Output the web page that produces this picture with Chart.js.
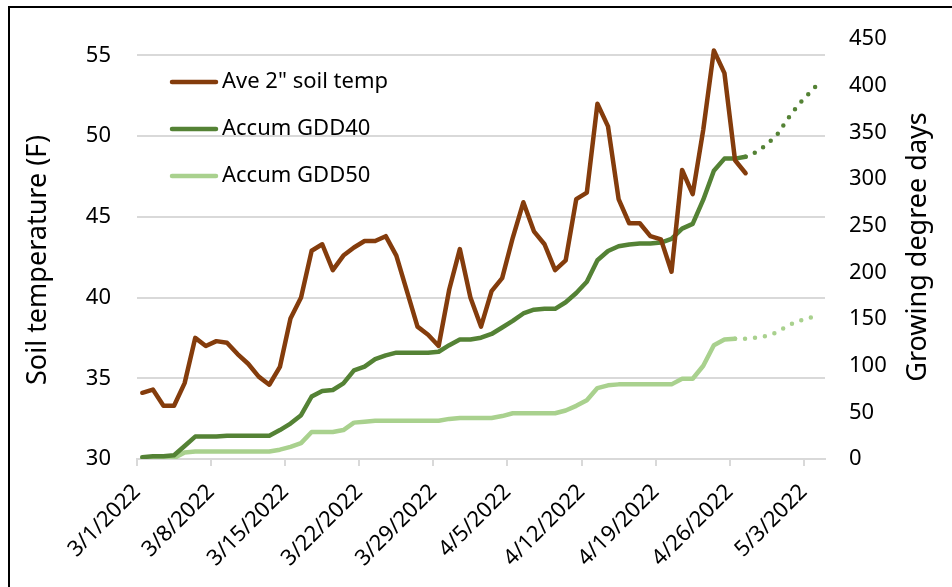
<!DOCTYPE html>
<html>
<head>
<meta charset="utf-8">
<title>Soil temperature and growing degree days</title>
<script src="https://cdn.jsdelivr.net/npm/chart.js@4.4.1/dist/chart.umd.min.js"></script>
<style>
    html, body { margin: 0; padding: 0; background: #fff; overflow: hidden; }
    #wrap { position: relative; width: 952px; height: 587px; }
    #frame {
        position: absolute; left: 8px; top: 6px; right: -10px; bottom: -10px;
        border-top: 2px solid #000; border-left: 2px solid #000;
        pointer-events: none;
    }
</style>
</head>
<body>
<div id="wrap">
    <canvas id="soil-chart"></canvas>
    <div id="frame"></div>
</div>
<script>
// 軸ラベル（3/1から1週間ごと）
const tickLabels = ['3/1/2022', '3/8/2022', '3/15/2022', '3/22/2022', '3/29/2022',
    '4/5/2022', '4/12/2022', '4/19/2022', '4/26/2022', '5/3/2022'];
const seriesNames = ['Ave 2" soil temp', 'Accum GDD40', 'Accum GDD50'];

// 日別の値（3/1 = 0日目）
const soilTemp = [
    34.1, 34.3, 33.3, 33.3, 34.7, 37.5, 37.0, 37.3, 37.2, 36.5,
    35.9, 35.1, 34.6, 35.7, 38.7, 40.0, 42.9, 43.3, 41.7, 42.6,
    43.1, 43.5, 43.5, 43.8, 42.6, 40.4, 38.2, 37.7, 37.0, 40.5,
    43.0, 40.0, 38.2, 40.4, 41.2, 43.7, 45.9, 44.1, 43.3, 41.7,
    42.3, 46.1, 46.5, 52.0, 50.6, 46.1, 44.6, 44.6, 43.8, 43.6,
    41.6, 47.9, 46.4, 50.4, 55.3, 53.9, 48.5, 47.7
];
const gdd40 = [
    2, 3, 3, 4, 14, 24, 24, 24, 25, 25,
    25, 25, 25, 31, 38, 47, 67, 73, 74, 81,
    95, 99, 107, 111, 114, 114, 114, 114, 115, 122,
    128, 128, 130, 134, 141, 148, 156, 160, 161, 161,
    168, 178, 190, 213, 223, 228, 230, 231, 231, 232,
    236, 247, 252, 278, 309, 322, 322, 324
];
const gdd50 = [
    0, 0, 0, 1, 7, 8, 8, 8, 8, 8,
    8, 8, 8, 10, 13, 17, 29, 29, 29, 31,
    39, 40, 41, 41, 41, 41, 41, 41, 41, 43,
    44, 44, 44, 44, 46, 49, 49, 49, 49, 49,
    52, 57, 63, 76, 79, 80, 80, 80, 80, 80,
    80, 86, 86, 100, 122, 128, 129
];
// 予測（点線）
const gdd40ForecastStart = 57;
const gdd40Forecast = [324, 329, 337, 348, 365, 380, 392, 404];
const gdd50ForecastStart = 56;
const gdd50Forecast = [129, 129, 130, 132, 136, 143, 148, 151, 156];

const brown = '#843c0c';
const darkGreen = '#548235';
const lightGreen = '#a9d18e';
const gridColor = '#d9d9d9';
const fontFamily = "'Noto Sans', sans-serif";

// 日付軸は目盛りの間に点を置く
function toPoints(values, firstDay) {
    return values.map((v, i) => ({ x: firstDay + i + 0.5, y: v }));
}

// 凡例と軸タイトル
const overlayPlugin = {
    id: 'overlay',
    afterDraw(chart) {
        const ctx = chart.ctx;
        ctx.save();
        ctx.font = '22px ' + fontFamily;
        ctx.textBaseline = 'middle';
        ctx.textAlign = 'left';
        ctx.fillStyle = '#000';
        for (let i = 0; i < seriesNames.length; i++) {
            const ds = chart.data.datasets[i];
            const y = 82 + i * 47;
            ctx.strokeStyle = ds.borderColor;
            ctx.lineWidth = 4.5;
            ctx.lineCap = 'round';
            ctx.beginPath();
            ctx.moveTo(172, y);
            ctx.lineTo(216, y);
            ctx.stroke();
            ctx.fillText(ds.label, 222, y);
        }

        ctx.font = '27px ' + fontFamily;
        ctx.textAlign = 'center';
        ctx.save();
        ctx.translate(38, 260);
        ctx.rotate(-Math.PI / 2);
        ctx.fillText('Soil temperature (F)', 0, 0);
        ctx.restore();

        ctx.save();
        ctx.translate(918, 247);
        ctx.rotate(-Math.PI / 2);
        ctx.fillText('Growing degree days', 0, 0);
        ctx.restore();

        ctx.restore();
    }
};

document.addEventListener('DOMContentLoaded', function() {
    const ctx = document.getElementById('soil-chart').getContext('2d');
    const tickFont = { family: fontFamily, size: 22 };

    new Chart(ctx, {
        type: 'line',
        data: {
            datasets: [{
                label: seriesNames[0],
                data: toPoints(soilTemp, 0),
                borderColor: brown,
                yAxisID: 'y'
            }, {
                label: seriesNames[1],
                data: toPoints(gdd40, 0),
                borderColor: darkGreen,
                yAxisID: 'y2'
            }, {
                label: seriesNames[2],
                data: toPoints(gdd50, 0),
                borderColor: lightGreen,
                yAxisID: 'y2'
            }, {
                label: seriesNames[1] + ' forecast',
                data: toPoints(gdd40Forecast, gdd40ForecastStart),
                borderColor: darkGreen,
                borderDash: [0, 10],
                yAxisID: 'y2'
            }, {
                label: seriesNames[2] + ' forecast',
                data: toPoints(gdd50Forecast, gdd50ForecastStart),
                borderColor: lightGreen,
                borderDash: [0, 10],
                yAxisID: 'y2'
            }]
        },
        options: {
            responsive: true,
            maintainAspectRatio: false,
            animation: false,
            layout: { padding: { top: 35, left: 0, right: 0, bottom: 0 } },
            elements: {
                point: { radius: 0 },
                line: {
                    borderWidth: 4.5,
                    tension: 0,
                    borderJoinStyle: 'round',
                    borderCapStyle: 'round'
                }
            },
            plugins: {
                legend: { display: false },
                tooltip: { enabled: false }
            },
            scales: {
                x: {
                    type: 'linear',
                    min: 0,
                    max: 65,
                    afterFit: function(axis) { axis.height = 128; },
                    ticks: {
                        stepSize: 7,
                        includeBounds: false,
                        autoSkip: false,
                        minRotation: 45,
                        maxRotation: 45,
                        padding: 13,
                        color: '#000',
                        font: tickFont,
                        callback: function(value) {
                            return tickLabels[value / 7];
                        }
                    },
                    grid: {
                        drawOnChartArea: false,
                        drawTicks: true,
                        tickLength: 7,
                        color: gridColor,
                        lineWidth: 2
                    },
                    border: { color: gridColor, width: 2 }
                },
                y: {
                    position: 'left',
                    min: 30,
                    max: 56,
                    afterFit: function(axis) { axis.width = 137; },
                    ticks: {
                        stepSize: 5,
                        includeBounds: false,
                        padding: 26,
                        color: '#000',
                        font: tickFont
                    },
                    grid: { color: gridColor, lineWidth: 2, drawTicks: false },
                    border: { display: false }
                },
                y2: {
                    position: 'right',
                    min: 0,
                    max: 450,
                    afterFit: function(axis) { axis.width = 127; },
                    ticks: {
                        stepSize: 50,
                        padding: 24,
                        color: '#000',
                        font: tickFont
                    },
                    grid: { drawOnChartArea: false, drawTicks: false },
                    border: { display: false }
                }
            }
        },
        plugins: [overlayPlugin]
    });
});
</script>
</body>
</html>
